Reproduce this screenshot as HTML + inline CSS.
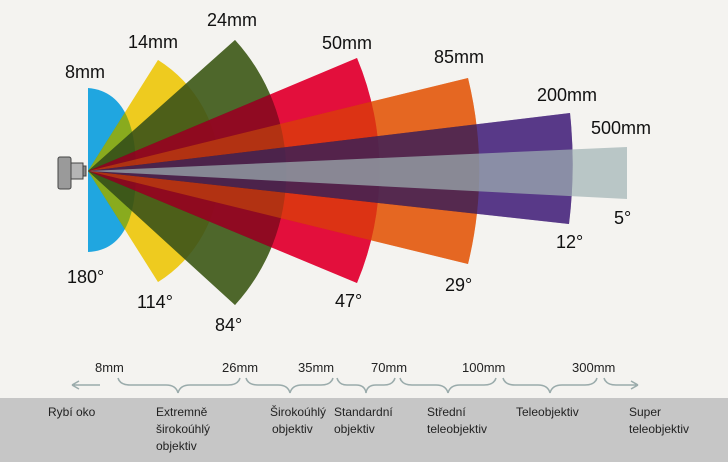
<!DOCTYPE html>
<html><head><meta charset="utf-8"><style>
body{margin:0;width:728px;height:462px;background:#f4f3f0;overflow:hidden;font-family:"Liberation Sans",sans-serif;}
svg{position:absolute;left:0;top:0}
.m{mix-blend-mode:multiply}
</style></head><body>
<svg width="728" height="462" viewBox="0 0 728 462">
<defs>
<path id="y" d="M88,171 L158,60 A131,131 0 0 1 158,282 Z"/>
<path id="g" d="M88,171 L235,40 A197,197 0 0 1 235,305 Z"/>
<path id="r" d="M88,171 L357,58 A292,292 0 0 1 357,283 Z"/>
<path id="o" d="M88,171 L468,78 A391,391 0 0 1 468,264 Z"/>
<path id="p" d="M88,171 L570,113 A488,488 0 0 1 569,224 Z"/>
</defs>
<rect x="0" y="398" width="728" height="64" fill="#c6c6c6"/>
<path d="M88,88 Q136,92 136,171 Q136,250 88,252 Z" fill="#20a6e0"/>
<use href="#y" fill="#f4d020" class="m"/><use href="#y" fill="#f4d020" opacity="0.5"/>
<use href="#g" fill="#50692c" class="m"/><use href="#g" fill="#50692c" opacity="0.5"/>
<use href="#r" fill="#e8103e" class="m"/><use href="#r" fill="#e8103e" opacity="0.45"/>
<use href="#o" fill="#ea6a24" class="m"/><use href="#o" fill="#ea6a24" opacity="0.45"/>
<use href="#p" fill="#5a3a8c" class="m"/><use href="#p" fill="#5a3a8c" opacity="0.5"/>
<path d="M88,171 L627,147 L627,199 Z" fill="#a0b2b4" opacity="0.7"/>
<g stroke="#444" stroke-width="1" fill="#9a9a9a">
<rect x="58" y="157" width="13" height="32" rx="2"/>
<rect x="71" y="163" width="12" height="16" fill="#b5b5b5"/>
<rect x="83" y="166" width="3" height="10" fill="#888"/>
</g>
<g font-size="18" fill="#111">
<text x="65" y="78">8mm</text>
<text x="128" y="48">14mm</text>
<text x="207" y="26">24mm</text>
<text x="322" y="49">50mm</text>
<text x="434" y="63">85mm</text>
<text x="537" y="101">200mm</text>
<text x="591" y="134">500mm</text>
<text x="67" y="283">180°</text>
<text x="137" y="308">114°</text>
<text x="215" y="331">84°</text>
<text x="335" y="307">47°</text>
<text x="445" y="291">29°</text>
<text x="556" y="248">12°</text>
<text x="614" y="224">5°</text>
</g>
<g font-size="13" fill="#222">
<text x="95" y="372">8mm</text>
<text x="222" y="372">26mm</text>
<text x="298" y="372">35mm</text>
<text x="371" y="372">70mm</text>
<text x="462" y="372">100mm</text>
<text x="572" y="372">300mm</text>
</g>
<g stroke="#9aabab" stroke-width="1.5" fill="none">
<path d="M100,385 L72,385 M72,385 l7,-4 M72,385 l7,4"/>
<path d="M118,378 q2,7 12,7 h36 q10,0 12,8 q2,-8 12,-8 h38 q10,0 12,-7"/>
<path d="M246,378 q2,7 12,7 h20 q10,0 12,8 q2,-8 12,-8 h19 q10,0 12,-7"/>
<path d="M337,378 q2,7 10,7 h9 q9,0 10,8 q1,-8 10,-8 h8 q9,0 11,-7"/>
<path d="M400,378 q2,7 12,7 h24 q10,0 12,8 q2,-8 12,-8 h24 q10,0 12,-7"/>
<path d="M503,378 q2,7 12,7 h23 q10,0 12,8 q2,-8 12,-8 h23 q10,0 12,-7"/>
<path d="M604,378 q2,7 12,7 h22 M638,385 l-7,-4 M638,385 l-7,4"/>
</g>
<g font-size="12" fill="#222">
<text x="48" y="416">Rybí oko</text>
<text x="156" y="416">Extremně</text><text x="156" y="433">širokoúhlý</text><text x="156" y="450">objektiv</text>
<text x="270" y="416">Širokoúhlý</text><text x="272" y="433">objektiv</text>
<text x="334" y="416">Standardní</text><text x="334" y="433">objektiv</text>
<text x="427" y="416">Střední</text><text x="427" y="433">teleobjektiv</text>
<text x="516" y="416">Teleobjektiv</text>
<text x="629" y="416">Super</text><text x="629" y="433">teleobjektiv</text>
</g>
</svg>
</body></html>
